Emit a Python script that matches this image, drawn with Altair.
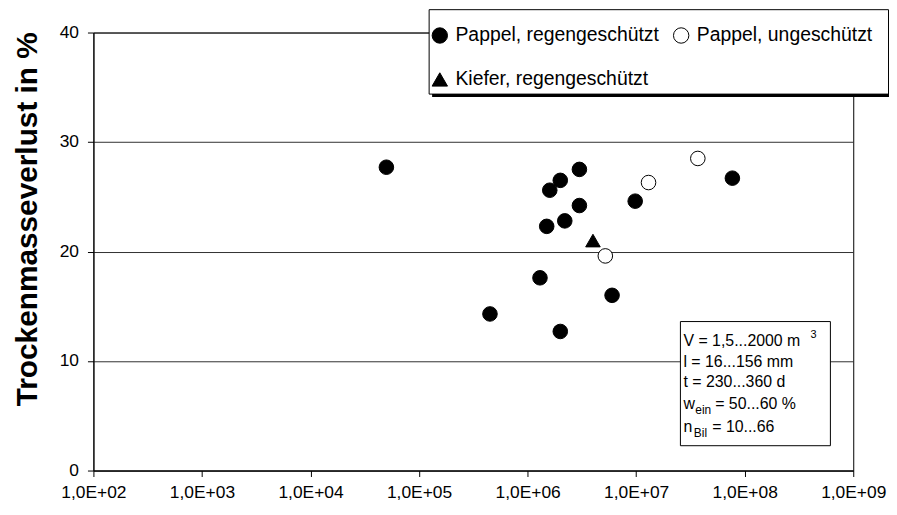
import altair as alt
import pandas as pd

FONT = "Liberation Sans"

series_names = ["Pappel, regengeschützt", "Pappel, ungeschützt", "Kiefer, regengeschützt"]
series_fill = ["black", "white", "black"]
series_shape = ["circle", "circle", "triangle-up"]

pappel_regen_x = [5.0e4, 3.0e6, 2.0e6, 1.6e6, 3.0e6, 2.2e6, 1.5e6, 1.3e6, 6.0e6, 4.5e5, 2.0e6, 9.8e6, 7.7e7]
pappel_regen_y = [27.7, 27.5, 26.5, 25.6, 24.2, 22.8, 22.3, 17.6, 16.0, 14.3, 12.7, 24.6, 26.7]
pappel_unge_x = [5.2e6, 1.3e7, 3.7e7]
pappel_unge_y = [19.6, 26.3, 28.5]
kiefer_x = [4.0e6]
kiefer_y = [21.0]

x_ticks = [1e2, 1e3, 1e4, 1e5, 1e6, 1e7, 1e8, 1e9]
y_ticks = [0, 10, 20, 30, 40]

y_title = "Trockenmasseverlust in %"

rows = []
for name, xs, ys in zip(series_names,
                        [pappel_regen_x, pappel_unge_x, kiefer_x],
                        [pappel_regen_y, pappel_unge_y, kiefer_y]):
    for xv, yv in zip(xs, ys):
        rows.append({"serie": name, "x": xv, "y": yv})
df = pd.DataFrame(rows)
one = pd.DataFrame({"a": [0]})


def make_legend():
    return alt.Legend(title=None, orient="none", legendX=339, legendY=-7,
                      columns=2, direction="horizontal", labelFontSize=19.5, labelFont=FONT,
                      labelColor="black", symbolSize=240,
                      symbolStrokeColor="black", symbolStrokeWidth=1,
                      labelOffset=6, columnPadding=12, rowPadding=23.5,
                      padding=0, labelLimit=400)


points = alt.Chart(df).mark_point(
    filled=False, strokeWidth=1, opacity=1, fillOpacity=1, strokeOpacity=1, size=215
).encode(
    x=alt.X("x:Q",
            scale=alt.Scale(type="log", domain=[1e2, 1e9], nice=False),
            axis=alt.Axis(values=x_ticks,
                          labelExpr="'1,0E+' + format(round(log(datum.value)/LN10), '02d')",
                          grid=False, title=None, tickSize=6, labelPadding=7,
                          labelFontSize=17.5, labelFont=FONT, labelColor="black",
                          domainColor="black", tickColor="black", labelFlush=False)),
    y=alt.Y("y:Q",
            scale=alt.Scale(domain=[0, 40], nice=False),
            axis=alt.Axis(values=y_ticks, grid=True, gridColor="#303030", gridWidth=1,
                          title=y_title, titleFont=FONT, titleFontSize=30,
                          titleFontWeight="bold", titleColor="black",
                          titleAngle=270, titleX=-57, titleY=187.5,
                          titleBaseline="alphabetic", titleAlign="center",
                          tickSize=6, labelPadding=9, labelFontSize=17.5, labelFont=FONT,
                          labelColor="black", domainColor="black", tickColor="black")),
    fill=alt.Fill("serie:N", scale=alt.Scale(domain=series_names, range=series_fill),
                  legend=make_legend()),
    shape=alt.Shape("serie:N", scale=alt.Scale(domain=series_names, range=series_shape),
                    legend=make_legend()),
    stroke=alt.Stroke("serie:N", scale=alt.Scale(domain=series_names,
                                                 range=["black", "black", "black"]),
                      legend=make_legend()),
)

# legend box with shadow
legend_shadow = alt.Chart(one).mark_rect(fill="black").encode(
    x=alt.value(341), x2=alt.value(804), y=alt.value(-20), y2=alt.value(65))
legend_box = alt.Chart(one).mark_rect(fill="white", stroke="black", strokeWidth=1).encode(
    x=alt.value(338), x2=alt.value(800.5), y=alt.value(-23), y2=alt.value(62))

# annotation box
note_box = alt.Chart(one).mark_rect(fill="white", stroke="black", strokeWidth=1).encode(
    x=alt.value(591), x2=alt.value(742), y=alt.value(291), y2=alt.value(416))

note_items = [
    ("V = 1,5...2000 m", 594, 310.7, 16),
    ("3", 722, 305, 11),
    ("l = 16...156 mm", 594, 331.7, 16),
    ("t = 230...360 d", 594, 352.3, 16),
    ("w", 594, 374, 16),
    ("ein", 606, 380.5, 12),
    ("= 50...60 %", 626, 374, 16),
    ("n", 594, 397, 16),
    ("Bil", 604.5, 403.5, 12),
    ("= 10...66", 623, 397, 16),
]
note_layers = [
    alt.Chart(one).mark_text(text=t, align="left", baseline="middle", fontSize=fs,
                             font=FONT, color="black").encode(x=alt.value(px), y=alt.value(py))
    for t, px, py, fs in note_items
]

chart = alt.layer(legend_shadow, legend_box, note_box, points, *note_layers).properties(
    width=765, height=441,
    autosize=alt.AutoSizeParams(type="none"),
    padding={"left": 86, "top": 23, "right": 36, "bottom": 32},
).configure_view(stroke="black", strokeWidth=1)

chart.save("out.html", embed_options={"renderer": "svg", "actions": False})
